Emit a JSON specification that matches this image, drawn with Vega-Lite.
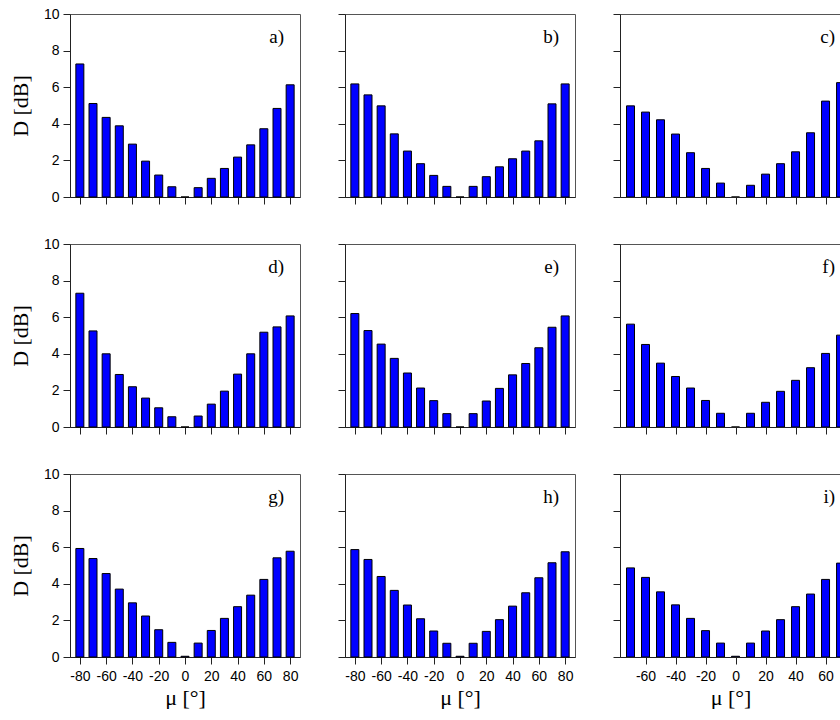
{
  "$schema": "https://vega.github.io/schema/vega-lite/v6.json",
  "padding": {"left": 8, "top": 6, "right": 0, "bottom": 0},
  "background": "white",
  "columns": 3,
  "bounds": "flush",
  "spacing": {"row": 47, "column": 45},
  "datasets": {
    "bars": [
      {"p": "a", "mu": -80, "D": 7.27}, {"p": "a", "mu": -70, "D": 5.11}, {"p": "a", "mu": -60, "D": 4.35}, {"p": "a", "mu": -50, "D": 3.89}, {"p": "a", "mu": -40, "D": 2.89}, {"p": "a", "mu": -30, "D": 1.96}, {"p": "a", "mu": -20, "D": 1.2}, {"p": "a", "mu": -10, "D": 0.56}, {"p": "a", "mu": 0, "D": 0}, {"p": "a", "mu": 10, "D": 0.51}, {"p": "a", "mu": 20, "D": 1.02}, {"p": "a", "mu": 30, "D": 1.56}, {"p": "a", "mu": 40, "D": 2.18}, {"p": "a", "mu": 50, "D": 2.85}, {"p": "a", "mu": 60, "D": 3.73}, {"p": "a", "mu": 70, "D": 4.84}, {"p": "a", "mu": 80, "D": 6.13},
      {"p": "b", "mu": -80, "D": 6.18}, {"p": "b", "mu": -70, "D": 5.58}, {"p": "b", "mu": -60, "D": 4.98}, {"p": "b", "mu": -50, "D": 3.45}, {"p": "b", "mu": -40, "D": 2.51}, {"p": "b", "mu": -30, "D": 1.82}, {"p": "b", "mu": -20, "D": 1.18}, {"p": "b", "mu": -10, "D": 0.58}, {"p": "b", "mu": 0, "D": 0}, {"p": "b", "mu": 10, "D": 0.58}, {"p": "b", "mu": 20, "D": 1.11}, {"p": "b", "mu": 30, "D": 1.65}, {"p": "b", "mu": 40, "D": 2.09}, {"p": "b", "mu": 50, "D": 2.51}, {"p": "b", "mu": 60, "D": 3.07}, {"p": "b", "mu": 70, "D": 5.09}, {"p": "b", "mu": 80, "D": 6.18},
      {"p": "c", "mu": -70, "D": 4.98}, {"p": "c", "mu": -60, "D": 4.64}, {"p": "c", "mu": -50, "D": 4.22}, {"p": "c", "mu": -40, "D": 3.44}, {"p": "c", "mu": -30, "D": 2.42}, {"p": "c", "mu": -20, "D": 1.56}, {"p": "c", "mu": -10, "D": 0.76}, {"p": "c", "mu": 0, "D": 0}, {"p": "c", "mu": 10, "D": 0.64}, {"p": "c", "mu": 20, "D": 1.25}, {"p": "c", "mu": 30, "D": 1.82}, {"p": "c", "mu": 40, "D": 2.47}, {"p": "c", "mu": 50, "D": 3.51}, {"p": "c", "mu": 60, "D": 5.24}, {"p": "c", "mu": 70, "D": 6.25},
      {"p": "d", "mu": -80, "D": 7.31}, {"p": "d", "mu": -70, "D": 5.25}, {"p": "d", "mu": -60, "D": 4.0}, {"p": "d", "mu": -50, "D": 2.87}, {"p": "d", "mu": -40, "D": 2.2}, {"p": "d", "mu": -30, "D": 1.58}, {"p": "d", "mu": -20, "D": 1.05}, {"p": "d", "mu": -10, "D": 0.56}, {"p": "d", "mu": 0, "D": 0}, {"p": "d", "mu": 10, "D": 0.6}, {"p": "d", "mu": 20, "D": 1.25}, {"p": "d", "mu": 30, "D": 1.96}, {"p": "d", "mu": 40, "D": 2.89}, {"p": "d", "mu": 50, "D": 4.0}, {"p": "d", "mu": 60, "D": 5.18}, {"p": "d", "mu": 70, "D": 5.47}, {"p": "d", "mu": 80, "D": 6.07},
      {"p": "e", "mu": -80, "D": 6.2}, {"p": "e", "mu": -70, "D": 5.27}, {"p": "e", "mu": -60, "D": 4.53}, {"p": "e", "mu": -50, "D": 3.75}, {"p": "e", "mu": -40, "D": 2.95}, {"p": "e", "mu": -30, "D": 2.13}, {"p": "e", "mu": -20, "D": 1.44}, {"p": "e", "mu": -10, "D": 0.73}, {"p": "e", "mu": 0, "D": 0}, {"p": "e", "mu": 10, "D": 0.73}, {"p": "e", "mu": 20, "D": 1.42}, {"p": "e", "mu": 30, "D": 2.11}, {"p": "e", "mu": 40, "D": 2.85}, {"p": "e", "mu": 50, "D": 3.47}, {"p": "e", "mu": 60, "D": 4.33}, {"p": "e", "mu": 70, "D": 5.45}, {"p": "e", "mu": 80, "D": 6.07},
      {"p": "f", "mu": -70, "D": 5.62}, {"p": "f", "mu": -60, "D": 4.51}, {"p": "f", "mu": -50, "D": 3.49}, {"p": "f", "mu": -40, "D": 2.76}, {"p": "f", "mu": -30, "D": 2.13}, {"p": "f", "mu": -20, "D": 1.45}, {"p": "f", "mu": -10, "D": 0.75}, {"p": "f", "mu": 0, "D": 0}, {"p": "f", "mu": 10, "D": 0.75}, {"p": "f", "mu": 20, "D": 1.35}, {"p": "f", "mu": 30, "D": 1.95}, {"p": "f", "mu": 40, "D": 2.55}, {"p": "f", "mu": 50, "D": 3.24}, {"p": "f", "mu": 60, "D": 4.02}, {"p": "f", "mu": 70, "D": 5.02},
      {"p": "g", "mu": -80, "D": 5.93}, {"p": "g", "mu": -70, "D": 5.38}, {"p": "g", "mu": -60, "D": 4.56}, {"p": "g", "mu": -50, "D": 3.71}, {"p": "g", "mu": -40, "D": 2.96}, {"p": "g", "mu": -30, "D": 2.24}, {"p": "g", "mu": -20, "D": 1.49}, {"p": "g", "mu": -10, "D": 0.8}, {"p": "g", "mu": 0, "D": 0.04}, {"p": "g", "mu": 10, "D": 0.76}, {"p": "g", "mu": 20, "D": 1.45}, {"p": "g", "mu": 30, "D": 2.11}, {"p": "g", "mu": 40, "D": 2.75}, {"p": "g", "mu": 50, "D": 3.38}, {"p": "g", "mu": 60, "D": 4.24}, {"p": "g", "mu": 70, "D": 5.42}, {"p": "g", "mu": 80, "D": 5.78},
      {"p": "h", "mu": -80, "D": 5.87}, {"p": "h", "mu": -70, "D": 5.33}, {"p": "h", "mu": -60, "D": 4.4}, {"p": "h", "mu": -50, "D": 3.64}, {"p": "h", "mu": -40, "D": 2.84}, {"p": "h", "mu": -30, "D": 2.09}, {"p": "h", "mu": -20, "D": 1.42}, {"p": "h", "mu": -10, "D": 0.75}, {"p": "h", "mu": 0, "D": 0.04}, {"p": "h", "mu": 10, "D": 0.75}, {"p": "h", "mu": 20, "D": 1.4}, {"p": "h", "mu": 30, "D": 2.04}, {"p": "h", "mu": 40, "D": 2.78}, {"p": "h", "mu": 50, "D": 3.51}, {"p": "h", "mu": 60, "D": 4.33}, {"p": "h", "mu": 70, "D": 5.15}, {"p": "h", "mu": 80, "D": 5.75},
      {"p": "i", "mu": -70, "D": 4.87}, {"p": "i", "mu": -60, "D": 4.35}, {"p": "i", "mu": -50, "D": 3.56}, {"p": "i", "mu": -40, "D": 2.85}, {"p": "i", "mu": -30, "D": 2.11}, {"p": "i", "mu": -20, "D": 1.44}, {"p": "i", "mu": -10, "D": 0.76}, {"p": "i", "mu": 0, "D": 0.04}, {"p": "i", "mu": 10, "D": 0.76}, {"p": "i", "mu": 20, "D": 1.42}, {"p": "i", "mu": 30, "D": 2.04}, {"p": "i", "mu": 40, "D": 2.75}, {"p": "i", "mu": 50, "D": 3.44}, {"p": "i", "mu": 60, "D": 4.24}, {"p": "i", "mu": 70, "D": 5.13}
    ]
  },
  "concat": [
    {"width": 230, "height": 183, "layer": [
      {"data": {"name": "bars"}, "transform": [{"filter": "datum.p === 'a'"}], "mark": {"type": "bar", "size": 8, "color": "#0000ff", "stroke": "#000000", "strokeWidth": 1}, "encoding": {
        "x": {"field": "mu", "type": "quantitative", "scale": {"domain": [-87.5, 87.5], "nice": false, "zero": false}, "axis": {"values": [-80, -60, -40, -20, 0, 20, 40, 60, 80], "labels": false, "title": null}},
        "y": {"field": "D", "type": "quantitative", "scale": {"domain": [0, 10], "nice": false}, "axis": {"values": [0, 2, 4, 6, 8, 10], "title": "D [dB]"}}}},
      {"data": {"values": [{"label": "a)"}]}, "mark": {"type": "text", "font": "Liberation Serif", "fontSize": 19, "align": "right", "baseline": "alphabetic", "color": "#000000"}, "encoding": {"x": {"datum": 75.3, "type": "quantitative"}, "y": {"datum": 8.43, "type": "quantitative"}, "text": {"field": "label"}}}
    ]},
    {"width": 230, "height": 183, "layer": [
      {"data": {"name": "bars"}, "transform": [{"filter": "datum.p === 'b'"}], "mark": {"type": "bar", "size": 8, "color": "#0000ff", "stroke": "#000000", "strokeWidth": 1}, "encoding": {
        "x": {"field": "mu", "type": "quantitative", "scale": {"domain": [-87.5, 87.5], "nice": false, "zero": false}, "axis": {"values": [-80, -60, -40, -20, 0, 20, 40, 60, 80], "labels": false, "title": null}},
        "y": {"field": "D", "type": "quantitative", "scale": {"domain": [0, 10], "nice": false}, "axis": {"values": [0, 2, 4, 6, 8, 10], "labels": false, "title": null}}}},
      {"data": {"values": [{"label": "b)"}]}, "mark": {"type": "text", "font": "Liberation Serif", "fontSize": 19, "align": "right", "baseline": "alphabetic", "color": "#000000"}, "encoding": {"x": {"datum": 75.3, "type": "quantitative"}, "y": {"datum": 8.43, "type": "quantitative"}, "text": {"field": "label"}}}
    ]},
    {"width": 221, "height": 183, "layer": [
      {"data": {"name": "bars"}, "transform": [{"filter": "datum.p === 'c'"}], "mark": {"type": "bar", "size": 8, "clip": true, "color": "#0000ff", "stroke": "#000000", "strokeWidth": 1}, "encoding": {
        "x": {"field": "mu", "type": "quantitative", "scale": {"domain": [-77, 70.3], "nice": false, "zero": false}, "axis": {"values": [-60, -40, -20, 0, 20, 40, 60], "labels": false, "title": null}},
        "y": {"field": "D", "type": "quantitative", "scale": {"domain": [0, 10], "nice": false}, "axis": {"values": [0, 2, 4, 6, 8, 10], "labels": false, "title": null}}}},
      {"data": {"values": [{"label": "c)"}]}, "mark": {"type": "text", "font": "Liberation Serif", "fontSize": 19, "align": "right", "baseline": "alphabetic", "color": "#000000"}, "encoding": {"x": {"datum": 66.3, "type": "quantitative"}, "y": {"datum": 8.43, "type": "quantitative"}, "text": {"field": "label"}}}
    ]},
    {"width": 230, "height": 183, "layer": [
      {"data": {"name": "bars"}, "transform": [{"filter": "datum.p === 'd'"}], "mark": {"type": "bar", "size": 8, "color": "#0000ff", "stroke": "#000000", "strokeWidth": 1}, "encoding": {
        "x": {"field": "mu", "type": "quantitative", "scale": {"domain": [-87.5, 87.5], "nice": false, "zero": false}, "axis": {"values": [-80, -60, -40, -20, 0, 20, 40, 60, 80], "labels": false, "title": null}},
        "y": {"field": "D", "type": "quantitative", "scale": {"domain": [0, 10], "nice": false}, "axis": {"values": [0, 2, 4, 6, 8, 10], "title": "D [dB]"}}}},
      {"data": {"values": [{"label": "d)"}]}, "mark": {"type": "text", "font": "Liberation Serif", "fontSize": 19, "align": "right", "baseline": "alphabetic", "color": "#000000"}, "encoding": {"x": {"datum": 75.3, "type": "quantitative"}, "y": {"datum": 8.43, "type": "quantitative"}, "text": {"field": "label"}}}
    ]},
    {"width": 230, "height": 183, "layer": [
      {"data": {"name": "bars"}, "transform": [{"filter": "datum.p === 'e'"}], "mark": {"type": "bar", "size": 8, "color": "#0000ff", "stroke": "#000000", "strokeWidth": 1}, "encoding": {
        "x": {"field": "mu", "type": "quantitative", "scale": {"domain": [-87.5, 87.5], "nice": false, "zero": false}, "axis": {"values": [-80, -60, -40, -20, 0, 20, 40, 60, 80], "labels": false, "title": null}},
        "y": {"field": "D", "type": "quantitative", "scale": {"domain": [0, 10], "nice": false}, "axis": {"values": [0, 2, 4, 6, 8, 10], "labels": false, "title": null}}}},
      {"data": {"values": [{"label": "e)"}]}, "mark": {"type": "text", "font": "Liberation Serif", "fontSize": 19, "align": "right", "baseline": "alphabetic", "color": "#000000"}, "encoding": {"x": {"datum": 75.3, "type": "quantitative"}, "y": {"datum": 8.43, "type": "quantitative"}, "text": {"field": "label"}}}
    ]},
    {"width": 221, "height": 183, "layer": [
      {"data": {"name": "bars"}, "transform": [{"filter": "datum.p === 'f'"}], "mark": {"type": "bar", "size": 8, "clip": true, "color": "#0000ff", "stroke": "#000000", "strokeWidth": 1}, "encoding": {
        "x": {"field": "mu", "type": "quantitative", "scale": {"domain": [-77, 70.3], "nice": false, "zero": false}, "axis": {"values": [-60, -40, -20, 0, 20, 40, 60], "labels": false, "title": null}},
        "y": {"field": "D", "type": "quantitative", "scale": {"domain": [0, 10], "nice": false}, "axis": {"values": [0, 2, 4, 6, 8, 10], "labels": false, "title": null}}}},
      {"data": {"values": [{"label": "f)"}]}, "mark": {"type": "text", "font": "Liberation Serif", "fontSize": 19, "align": "right", "baseline": "alphabetic", "color": "#000000"}, "encoding": {"x": {"datum": 66.3, "type": "quantitative"}, "y": {"datum": 8.43, "type": "quantitative"}, "text": {"field": "label"}}}
    ]},
    {"width": 230, "height": 183, "layer": [
      {"data": {"name": "bars"}, "transform": [{"filter": "datum.p === 'g'"}], "mark": {"type": "bar", "size": 8, "color": "#0000ff", "stroke": "#000000", "strokeWidth": 1}, "encoding": {
        "x": {"field": "mu", "type": "quantitative", "scale": {"domain": [-87.5, 87.5], "nice": false, "zero": false}, "axis": {"values": [-80, -60, -40, -20, 0, 20, 40, 60, 80], "title": "μ [°]"}},
        "y": {"field": "D", "type": "quantitative", "scale": {"domain": [0, 10], "nice": false}, "axis": {"values": [0, 2, 4, 6, 8, 10], "title": "D [dB]"}}}},
      {"data": {"values": [{"label": "g)"}]}, "mark": {"type": "text", "font": "Liberation Serif", "fontSize": 19, "align": "right", "baseline": "alphabetic", "color": "#000000"}, "encoding": {"x": {"datum": 75.3, "type": "quantitative"}, "y": {"datum": 8.43, "type": "quantitative"}, "text": {"field": "label"}}}
    ]},
    {"width": 230, "height": 183, "layer": [
      {"data": {"name": "bars"}, "transform": [{"filter": "datum.p === 'h'"}], "mark": {"type": "bar", "size": 8, "color": "#0000ff", "stroke": "#000000", "strokeWidth": 1}, "encoding": {
        "x": {"field": "mu", "type": "quantitative", "scale": {"domain": [-87.5, 87.5], "nice": false, "zero": false}, "axis": {"values": [-80, -60, -40, -20, 0, 20, 40, 60, 80], "title": "μ [°]"}},
        "y": {"field": "D", "type": "quantitative", "scale": {"domain": [0, 10], "nice": false}, "axis": {"values": [0, 2, 4, 6, 8, 10], "labels": false, "title": null}}}},
      {"data": {"values": [{"label": "h)"}]}, "mark": {"type": "text", "font": "Liberation Serif", "fontSize": 19, "align": "right", "baseline": "alphabetic", "color": "#000000"}, "encoding": {"x": {"datum": 75.3, "type": "quantitative"}, "y": {"datum": 8.43, "type": "quantitative"}, "text": {"field": "label"}}}
    ]},
    {"width": 221, "height": 183, "layer": [
      {"data": {"name": "bars"}, "transform": [{"filter": "datum.p === 'i'"}], "mark": {"type": "bar", "size": 8, "clip": true, "color": "#0000ff", "stroke": "#000000", "strokeWidth": 1}, "encoding": {
        "x": {"field": "mu", "type": "quantitative", "scale": {"domain": [-77, 70.3], "nice": false, "zero": false}, "axis": {"values": [-60, -40, -20, 0, 20, 40, 60], "title": "μ [°]"}},
        "y": {"field": "D", "type": "quantitative", "scale": {"domain": [0, 10], "nice": false}, "axis": {"values": [0, 2, 4, 6, 8, 10], "labels": false, "title": null}}}},
      {"data": {"values": [{"label": "i)"}]}, "mark": {"type": "text", "font": "Liberation Serif", "fontSize": 19, "align": "right", "baseline": "alphabetic", "color": "#000000"}, "encoding": {"x": {"datum": 66.3, "type": "quantitative"}, "y": {"datum": 8.43, "type": "quantitative"}, "text": {"field": "label"}}}
    ]}
  ],
  "config": {
    "view": {"stroke": "#555555", "strokeWidth": 1},
    "scale": {"continuousPadding": 0},
    "axis": {
      "grid": false,
      "tickCount": 30,
      "format": "d",
      "domainColor": "#222222",
      "tickColor": "#222222",
      "tickSize": 7,
      "labelPadding": 4,
      "labelOverlap": false,
      "labelBound": false,
      "labelFlush": false,
      "labelExpr": "replace(datum.label, '−', '-')",
      "labelFont": "Liberation Sans",
      "labelFontSize": 14,
      "labelColor": "#000000",
      "titleFont": "Liberation Serif",
      "titleFontSize": 22,
      "titleFontWeight": "normal",
      "titleColor": "#000000"
    },
    "axisX": {"labelPadding": 5, "titlePadding": 4},
    "axisY": {"titlePadding": 11}
  }
}
